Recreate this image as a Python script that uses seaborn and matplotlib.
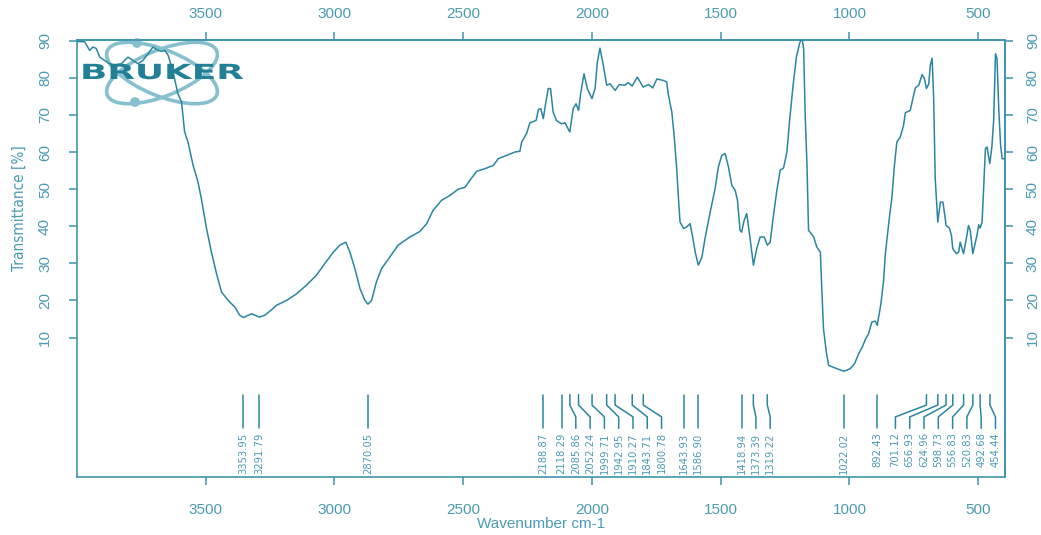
import matplotlib
matplotlib.use("Agg")
import matplotlib.pyplot as plt
import numpy as np
import pandas as pd
import seaborn as sns
from matplotlib import font_manager, patheffects
from matplotlib.patches import Ellipse, Circle
from matplotlib.transforms import Affine2D

# ---- spectrum (wavenumber in cm-1, transmittance in %) ----
wavenumber = [
    3999, 3970, 3951, 3938, 3925, 3912, 3893, 3873, 3854, 3828, 3802, 3783, 3763, 3744,
    3724, 3705, 3692, 3672, 3659, 3646, 3627, 3608, 3594, 3582, 3569, 3549, 3530, 3517,
    3497, 3478, 3458, 3439, 3413, 3387, 3368, 3354, 3322, 3292, 3271, 3251, 3225, 3186,
    3147, 3109, 3070, 3038, 3005, 2979, 2956, 2940, 2921, 2901, 2882, 2870, 2856, 2837,
    2817, 2785, 2753, 2707, 2668, 2642, 2617, 2584, 2552, 2519, 2493, 2474, 2448, 2416,
    2383, 2364, 2332, 2299, 2280, 2273, 2254, 2241, 2217, 2208, 2199, 2189, 2179, 2170,
    2161, 2151, 2138, 2118, 2105, 2086, 2073, 2062, 2052, 2044, 2031, 2018, 2000, 1988,
    1979, 1969, 1956, 1943, 1930, 1910, 1894, 1872, 1859, 1844, 1824, 1801, 1781, 1764,
    1748, 1723, 1710, 1703, 1690, 1681, 1671, 1664, 1658, 1644, 1632, 1619, 1608, 1599,
    1587, 1573, 1561, 1541, 1522, 1509, 1496, 1483, 1470, 1457, 1444, 1435, 1425, 1419,
    1409, 1399, 1386, 1373, 1360, 1347, 1331, 1319, 1308, 1295, 1282, 1269, 1256, 1243,
    1233, 1219, 1206, 1194, 1185, 1178, 1172, 1165, 1159, 1139, 1127, 1113, 1107, 1101,
    1090, 1081, 1049, 1022, 997, 980, 965, 950, 938, 926, 913, 900, 892, 878,
    868, 861, 855, 844, 835, 826, 816, 803, 790, 783, 764, 751, 744, 731,
    718, 709, 701, 692, 686, 679, 673, 667, 660, 657, 647, 637, 628, 625,
    612, 604, 599, 585, 576, 570, 563, 557, 544, 538, 531, 521, 512, 505,
    498, 493, 485, 479, 472, 466, 455, 447, 440, 433, 427, 420, 413, 407,
    397,
]
transmittance = [
    89.8, 89.7, 87.4, 88.3, 87.9, 85.6, 84.7, 83.8, 83.5, 83.8, 85.6, 84.7, 83.8, 84.7,
    86.5, 88.3, 87.7, 87.1, 87.4, 86.1, 81.6, 75.7, 73.5, 65.4, 62.7, 56.4, 51.9, 47.4,
    39.4, 33.0, 27.2, 22.3, 20.0, 18.2, 16.0, 15.4, 16.4, 15.5, 16.0, 17.1, 18.7, 20.0,
    21.8, 24.1, 26.8, 29.9, 33.0, 34.9, 35.7, 33.0, 28.6, 23.2, 20.0, 19.0, 20.0, 25.0,
    28.6, 31.7, 34.9, 37.1, 38.6, 40.7, 44.3, 47.0, 48.3, 50.0, 50.5, 52.4, 54.8, 55.5,
    56.4, 58.2, 59.1, 60.0, 60.2, 62.7, 65.0, 67.9, 68.5, 71.5, 71.7, 69.0, 73.5, 77.1,
    77.1, 70.8, 68.5, 67.6, 67.9, 65.4, 71.7, 73.0, 71.2, 75.7, 81.1, 77.1, 74.4, 77.1,
    84.3, 88.0, 83.4, 78.0, 78.4, 76.6, 78.2, 78.0, 78.7, 77.8, 80.2, 77.5, 78.2, 77.3,
    79.7, 79.3, 78.9, 75.3, 70.8, 64.5, 55.5, 47.4, 41.1, 39.4, 39.8, 40.7, 36.7, 33.0,
    29.5, 31.7, 36.7, 43.8, 50.1, 56.0, 59.1, 59.6, 56.0, 51.0, 49.7, 47.0, 38.9, 38.4,
    41.6, 43.4, 36.7, 29.5, 34.0, 37.1, 37.1, 34.9, 35.7, 43.0, 49.7, 55.1, 55.7, 60.0,
    68.1, 78.0, 85.6, 89.2, 91.0, 87.9, 69.9, 56.4, 38.9, 37.1, 34.4, 33.0, 22.3, 12.4,
    6.1, 2.5, 1.6, 0.9, 1.6, 3.0, 5.5, 7.5, 9.5, 11.0, 14.2, 14.4, 13.3, 19.1,
    25.0, 32.2, 36.2, 42.9, 47.9, 56.0, 62.7, 64.0, 67.2, 70.6, 71.2, 75.3, 77.3, 78.0,
    80.9, 79.8, 77.1, 78.4, 83.4, 85.3, 74.4, 52.8, 44.7, 41.1, 46.5, 46.5, 42.0, 40.2,
    39.5, 37.5, 34.0, 32.6, 33.0, 35.7, 34.0, 32.6, 37.5, 40.2, 38.9, 32.6, 35.3, 37.5,
    40.4, 39.5, 41.1, 50.1, 60.9, 61.4, 56.9, 61.4, 68.5, 86.5, 85.2, 71.2, 61.8, 58.2,
    58.2,
]

# ---- picked peaks ----
peak_positions = [
    3353.95, 3291.79, 2870.05, 2188.87, 2118.29, 2085.86, 2052.24, 1999.71, 1942.95,
    1910.27, 1843.71, 1800.78, 1643.93, 1586.90, 1418.94, 1373.39, 1319.22, 1022.02,
    892.43, 701.12, 656.93, 624.96, 598.73, 556.83, 520.83, 492.68, 454.44,
]

x_ticks = [3500, 3000, 2500, 2000, 1500, 1000, 500]
y_ticks = [10, 20, 30, 40, 50, 60, 70, 80, 90]

LINE = "#2a86a0"
FRAME = "#3f94ae"
TEXT = "#4a9bb4"
LOGO_DARK = "#217f96"
LOGO_LIGHT = "#86c0cf"

sns.set_theme(style="white")
installed = {f.name for f in font_manager.fontManager.ttflist}
if "Liberation Sans Narrow" in installed:
    NARROW = dict(family="Liberation Sans Narrow")
else:
    NARROW = dict(family="DejaVu Sans", stretch="condensed")
plt.rcParams["font.family"] = ["Liberation Sans", "DejaVu Sans"]

W, H = 1041, 535
fig = plt.figure(figsize=(W / 100, H / 100), dpi=100, facecolor="white")
ax = fig.add_axes([77 / W, 1 - 477 / H, 928 / W, 437 / H])
ax.set_facecolor("none")
pix = Affine2D().scale(1 / 100) + fig.dpi_scale_trans  # pixel coordinates

# ---- logo ----
for ang in (22, -22):
    ax.add_patch(Ellipse((162, H - 73), 118, 46, angle=ang, fill=False,
                         edgecolor=LOGO_LIGHT, lw=2.6, transform=pix,
                         clip_on=False, zorder=1))
for cx, cy in ((137, 43), (135, 102)):
    ax.add_patch(Circle((cx, H - cy), 4.2, color=LOGO_LIGHT, transform=pix,
                        clip_on=False, zorder=1))


class Stretch(patheffects.AbstractPathEffect):
    """Scale glyph outlines horizontally around a fixed x position."""

    def __init__(self, sx, x0):
        super().__init__()
        self.sx, self.x0 = sx, x0

    def draw_path(self, renderer, gc, tpath, affine, rgbFace=None):
        aff = affine + Affine2D().translate(-self.x0, 0).scale(self.sx, 1).translate(self.x0, 0)
        renderer.draw_path(gc, tpath, aff, rgbFace)


ax.text(80, H - 73, "BRUKER", transform=pix, fontsize=15, fontweight="heavy",
        family="DejaVu Sans", color=LOGO_DARK, ha="left", va="center", zorder=4,
        path_effects=[Stretch(1.72, 80)])

# ---- spectrum ----
df = pd.DataFrame({"Wavenumber": wavenumber, "Transmittance": transmittance})
sns.lineplot(data=df, x="Wavenumber", y="Transmittance", ax=ax, color=LINE,
             linewidth=1.1, estimator=None, sort=False, zorder=3)

ax.set_xlim(4000, 396)
ax.set_ylim(-27.6, 90.2)

# ---- peak markers with leader lines ----
GAP = 55.5
RIGHT_LIMIT = 433.0


def label_positions(peaks):
    pos = list(peaks)
    for i in range(1, len(pos)):
        pos[i] = min(pos[i], pos[i - 1] - GAP)
    pos[-1] = max(pos[-1], RIGHT_LIMIT)
    for i in range(len(pos) - 2, -1, -1):
        pos[i] = max(pos[i], pos[i + 1] + GAP)
    return pos


Y_TOP, Y_K1, Y_K2, Y_BOT, Y_TXT = -5.4, -8.2, -11.4, -14.5, -15.6
for p, lp in zip(peak_positions, label_positions(peak_positions)):
    if abs(lp - p) < 0.5:
        xs, ys = [p, p], [Y_TOP, Y_BOT]
    else:
        xs, ys = [p, p, lp, lp], [Y_TOP, Y_K1, Y_K2, Y_BOT]
    ax.plot(xs, ys, color=LINE, lw=1.1, solid_joinstyle="miter", zorder=3)
    ax.text(lp, Y_TXT, f"{p:.2f}", rotation=90, ha="center", va="top",
            fontsize=8, color=TEXT, **NARROW)

# ---- axes, ticks and labels ----
for s in ax.spines.values():
    s.set_color(FRAME)
    s.set_linewidth(1.2)

ax.set_xticks(x_ticks)
ax.set_yticks(y_ticks)
ax.tick_params(axis="x", bottom=True, direction="out", length=6, width=1.1,
               color=FRAME, labelcolor=TEXT, labelsize=11, pad=13)
ax.tick_params(axis="y", left=True, direction="out", length=6, width=1.1,
               color=FRAME, labelcolor=TEXT, labelsize=11, pad=12, labelrotation=90)
for t in ax.get_yticklabels():
    t.set_va("center")

top = ax.secondary_xaxis("top")
top.set_xticks(x_ticks)
top.tick_params(axis="x", direction="out", length=6, width=1.1, color=FRAME,
                labelcolor=TEXT, labelsize=11, pad=8)
top.spines["top"].set_color(FRAME)

right = ax.secondary_yaxis("right")
right.set_yticks(y_ticks)
right.tick_params(axis="y", direction="out", length=6, width=1.1, color=FRAME,
                  labelcolor=TEXT, labelsize=11, pad=9, labelrotation=90)
for t in right.get_yticklabels():
    t.set_va("center")
right.spines["right"].set_color(FRAME)

ax.set_xlabel("Wavenumber cm-1", color=TEXT, fontsize=11, labelpad=0)
ax.set_ylabel("Transmittance [%]", color=TEXT, fontsize=11, **NARROW)
ax.yaxis.set_label_coords(-0.054, (45 + 27.6) / (90.2 + 27.6))

fig.savefig("out.png", dpi=100, facecolor="white")
